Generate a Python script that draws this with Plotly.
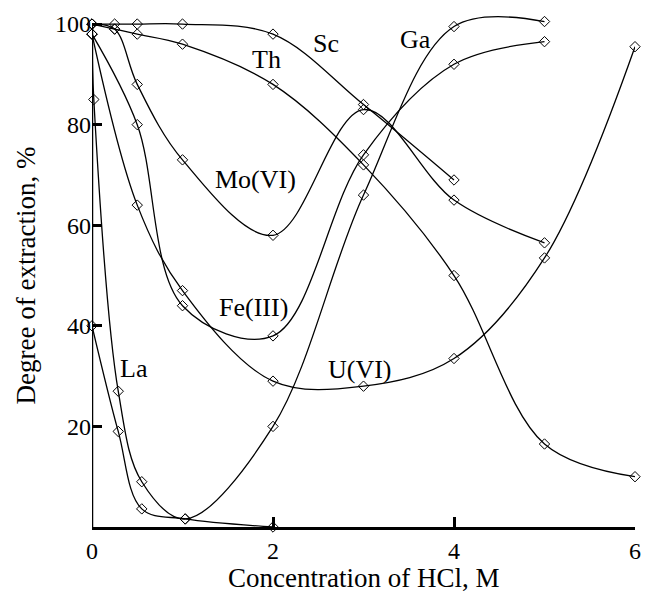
import plotly.graph_objects as go

# ---- data ----
sc_x = [0, 0.25, 0.5, 1, 2, 3, 4]
sc_y = [100, 100, 100, 100, 98, 84, 69]

th_x = [0, 0.25, 0.5, 1, 2, 3, 4, 5, 6]
th_y = [100, 99, 98, 96, 88, 72, 50, 16.5, 10]

mo_x = [0, 0.25, 0.5, 1, 2, 3, 4, 5]
mo_y = [100, 99, 88, 73, 58, 83, 65, 56.5]

fe_x = [0, 0.5, 1, 2, 3, 4, 5]
fe_y = [98, 80, 44, 38, 74, 92, 96.5]

u_x = [0, 0.5, 1, 2, 3, 4, 5, 6]
u_y = [98, 64, 47, 29, 28, 33.5, 53.5, 95.5]

ga_x = [0, 0.02, 0.29, 0.55, 1.03, 2, 3, 4, 5]
ga_y = [98, 85, 27, 9, 1.6, 20, 66, 99.5, 100.5]

la_x = [0, 0.29, 0.55, 1.03, 2]
la_y = [40, 19, 3.6, 1.6, 0]

x_ticks = [0, 2, 4, 6]
y_ticks = [20, 40, 60, 80, 100]

labels = ["Sc", "Ga", "Th", "Mo(VI)", "Fe(III)", "U(VI)", "La"]
label_x = [2.59, 3.57, 1.93, 1.81, 1.78, 2.96, 0.46]
label_y = [96.2, 97.0, 93.0, 69.0, 43.7, 31.4, 31.6]

FONT = "Liberation Serif"
Y_MAX_AXIS = 100

fig = go.Figure()
for xs, ys in [(sc_x, sc_y), (th_x, th_y), (mo_x, mo_y), (fe_x, fe_y),
               (u_x, u_y), (ga_x, ga_y), (la_x, la_y)]:
    fig.add_trace(go.Scatter(
        x=xs, y=ys, mode="lines+markers",
        line=dict(color="black", width=1.3, shape="spline", smoothing=1.0),
        marker=dict(symbol="diamond-open", size=8, color="black",
                    line=dict(color="black", width=1)),
        cliponaxis=False, showlegend=False, hoverinfo="skip"))

for t, lx, ly in zip(labels, label_x, label_y):
    fig.add_annotation(x=lx, y=ly, text=t, showarrow=False,
                       font=dict(family=FONT, size=26, color="black"),
                       xanchor="center", yanchor="middle")

fig.add_annotation(xref="paper", yref="paper", x=0.5, y=-0.1,
                   text="Concentration of HCl, M", showarrow=False,
                   font=dict(family=FONT, size=27, color="black"),
                   xanchor="center", yanchor="middle")
fig.add_annotation(xref="paper", yref="paper", x=-0.122, y=0.49,
                   text="Degree of extraction, %", showarrow=False, textangle=-90,
                   font=dict(family=FONT, size=27, color="black"),
                   xanchor="center", yanchor="middle")

# y axis line only up to 100
fig.add_shape(type="line", xref="x", yref="y", x0=0, x1=0, y0=0, y1=Y_MAX_AXIS,
              line=dict(color="black", width=2.5), layer="above")

tick_common = dict(ticks="inside", ticklen=10, tickwidth=2.5, tickcolor="black",
                   showgrid=False, zeroline=False, mirror=False,
                   tickfont=dict(family=FONT, size=24, color="black"))

fig.update_xaxes(range=[0, 6], tickvals=x_ticks, showline=True,
                 linecolor="black", linewidth=2.5,
                 ticktext=[str(v) for v in x_ticks], **tick_common)
fig.update_yaxes(range=[0, 102], tickvals=y_ticks, showline=False,
                 ticktext=[str(v) for v in y_ticks], **tick_common)

fig.update_layout(width=647, height=593,
                  margin=dict(l=92, r=6, t=14, b=66),
                  plot_bgcolor="white", paper_bgcolor="white")

fig.write_html("out.html")
